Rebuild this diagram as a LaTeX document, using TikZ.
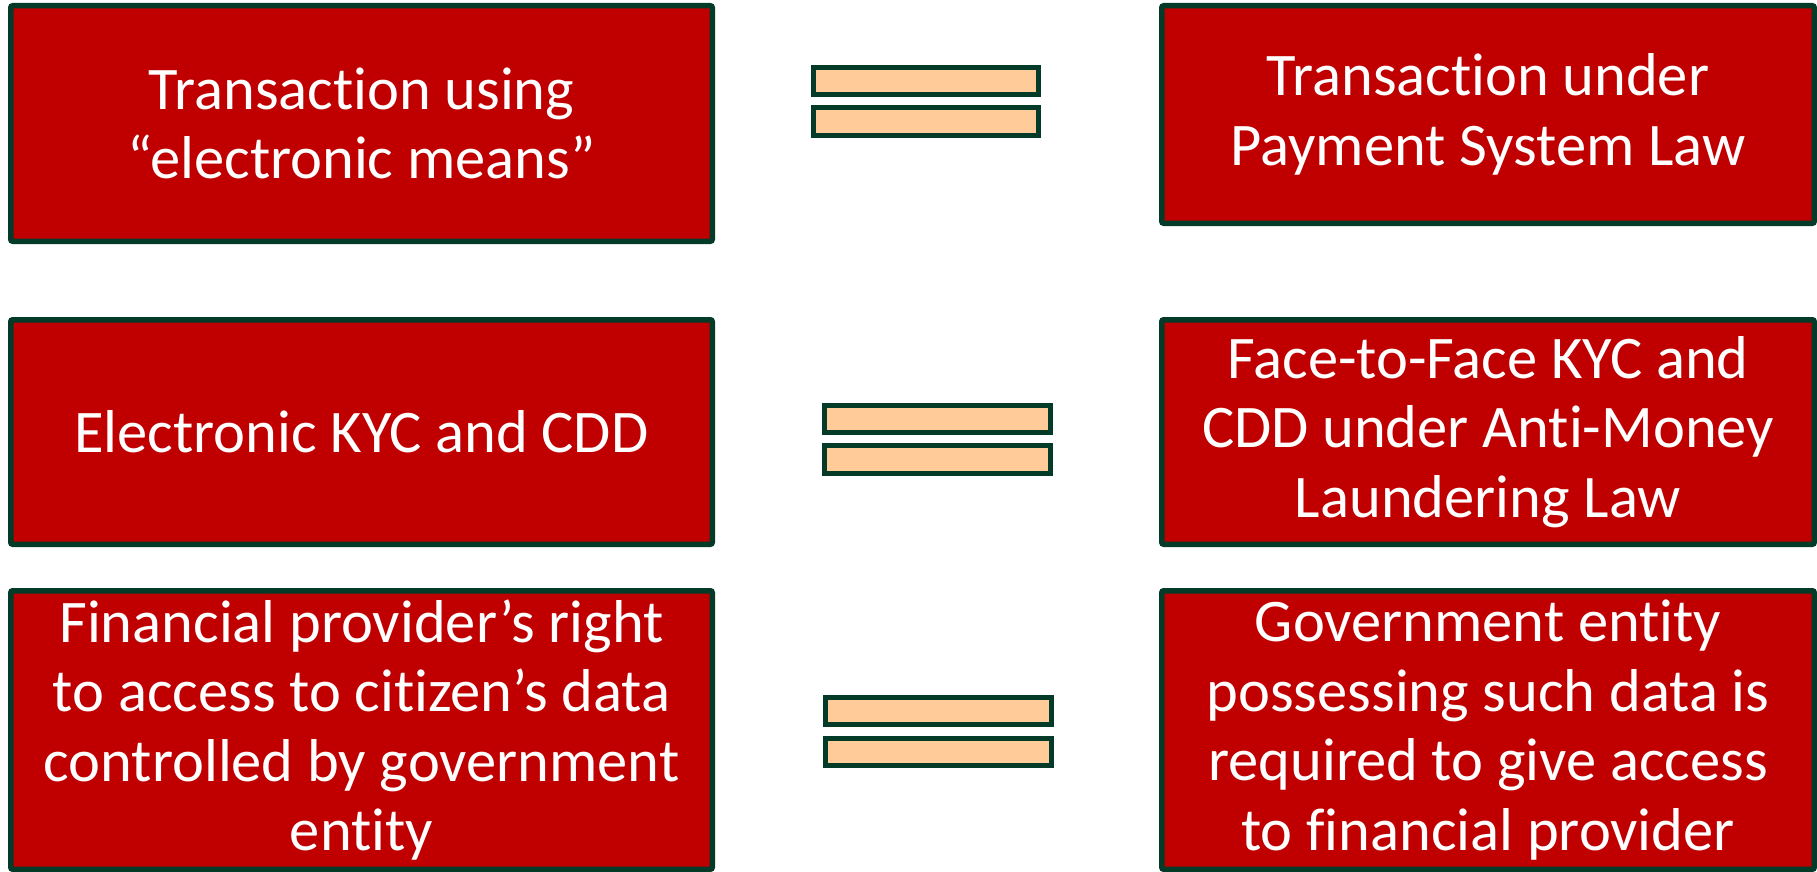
\documentclass[tikz,border=0pt]{standalone}
\usepackage{fontspec}
\setmainfont{Carlito}[Ligatures={NoCommon}]
\definecolor{boxred}{HTML}{C00000}
\definecolor{edgegreen}{HTML}{043A28}
\definecolor{peach}{HTML}{FFCC99}
\tikzset{
  redbox/.style={draw=edgegreen, fill=boxred, line width=5.5pt, rounded corners=2pt,
    rectangle, inner sep=0pt, outer sep=0pt, text=white, align=center,
    font=\fontsize{60.5}{69.5}\selectfont},
  eqbar/.style={draw=edgegreen, fill=peach, line width=5pt}
}
\begin{document}
\begin{tikzpicture}[x=1pt,y=1pt]
\useasboundingbox (0,0) rectangle (1817,-872);
\clip (0,0) rectangle (1817,-872);
% left column
\node[redbox, minimum width=701.5pt, minimum height=235.5pt] (l1) at (361.5,-123.5)
  {Transaction using\\“electronic means”};
\node[redbox, minimum width=701.5pt, minimum height=224.5pt] (l2) at (361.5,-432)
  {Electronic KYC and CDD};
\node[redbox, minimum width=701.5pt, minimum height=278.5pt] (l3) at (361.5,-730)
  {Financial provider’s right\\to access to citizen’s data\\controlled by government\\entity};
% right column
\node[redbox, minimum width=652.5pt, minimum height=217.5pt] (r1) at (1488,-114.5)
  {Transaction under\\Payment System Law};
\node[redbox, minimum width=652.5pt, minimum height=224.5pt] (r2) at (1488,-432)
  {Face-to-Face KYC and\\CDD under Anti-Money\\Laundering Law};
\node[redbox, minimum width=652.5pt, minimum height=278.5pt] (r3) at (1488,-730)
  {Government entity\\possessing such data is\\required to give access\\to financial provider};
% equal signs
\draw[eqbar] (813.5,-67.5) rectangle (1038.5,-94.5);
\draw[eqbar] (813.5,-107.5) rectangle (1038.5,-135.5);
\draw[eqbar] (824.5,-405.5) rectangle (1050.5,-432.5);
\draw[eqbar] (824.5,-445.5) rectangle (1050.5,-473.5);
\draw[eqbar] (825.5,-697.5) rectangle (1051.5,-724.5);
\draw[eqbar] (825.5,-738.5) rectangle (1051.5,-765.5);
\end{tikzpicture}
\end{document}
